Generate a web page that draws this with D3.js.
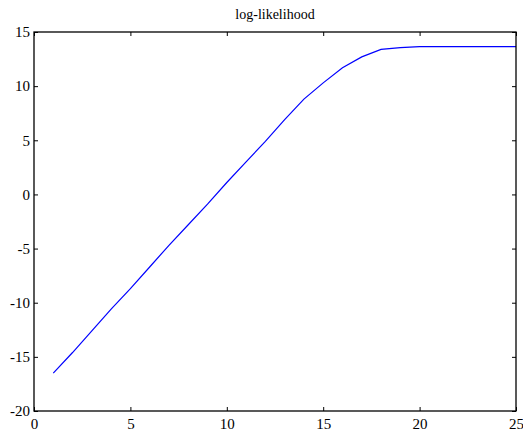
<!DOCTYPE html>
<html>
<head>
<meta charset="utf-8">
<script src="https://cdn.jsdelivr.net/npm/d3@7"></script>
<style>
  body { margin: 0; background: #fff; }
  svg { display: block; }
</style>
</head>
<body>
<svg></svg>
<script>
var w = 523, h = 432;
var serif = "'Liberation Serif', 'Times New Roman', Times, 'DejaVu Serif', serif";

// data
var iterations = [1, 2, 3, 4, 5, 6, 7, 8, 9, 10, 11, 12, 13, 14, 15, 16, 17, 18, 19, 20, 21, 22, 23, 24, 25];
var logLik = [-16.5, -14.6, -12.6, -10.6, -8.7, -6.7, -4.7, -2.8, -0.9, 1.1, 3.0, 4.9, 6.9, 8.8,
              10.3, 11.7, 12.7, 13.4, 13.55, 13.65, 13.65, 13.65, 13.65, 13.65, 13.65];
var xTicks = [0, 5, 10, 15, 20, 25];
var yTicks = [-20, -15, -10, -5, 0, 5, 10, 15];
var title = "log-likelihood";

var margin = {top: 32, right: 7, bottom: 21, left: 34};
var pw = w - margin.left - margin.right,
    ph = h - margin.top - margin.bottom;

var svg = d3.select("svg").attr("width", w).attr("height", h);
var g = svg.append("g").attr("transform", "translate(" + margin.left + "," + margin.top + ")");

var x = d3.scaleLinear().domain([0, 25]).range([0, pw]);
var y = d3.scaleLinear().domain([-20, 15]).range([ph, 0]);

var fontsize = 15;

// bottom axis with labels, ticks pointing inward
g.append("g")
    .attr("transform", "translate(0," + ph + ")")
    .call(d3.axisBottom(x).tickValues(xTicks).tickSize(-4).tickPadding(7).tickFormat(d3.format("d")))
    .call(a => a.select(".domain").remove())
    .attr("font-family", serif)
    .selectAll("text").style("font-size", fontsize + "px").style("font-family", serif).attr("fill", "#000");

// left axis with labels
g.append("g")
    .call(d3.axisLeft(y).tickValues(yTicks).tickSize(-4).tickPadding(4).tickFormat(d => d < 0 ? "-" + Math.abs(d) : d))
    .call(a => a.select(".domain").remove())
    .attr("font-family", serif)
    .selectAll("text").style("font-size", fontsize + "px").style("font-family", serif).attr("fill", "#000");

// mirrored ticks on top and right
g.append("g")
    .call(d3.axisTop(x).tickValues(xTicks).tickSize(-4).tickFormat(""))
    .call(a => a.select(".domain").remove());
g.append("g")
    .attr("transform", "translate(" + pw + ",0)")
    .call(d3.axisRight(y).tickValues(yTicks).tickSize(-4).tickFormat(""))
    .call(a => a.select(".domain").remove());

g.selectAll(".tick line").attr("stroke", "#000").attr("stroke-width", 1);

// the curve
var line = d3.line()
    .x((d, i) => x(iterations[i]))
    .y(d => y(d));

g.append("path")
    .datum(logLik)
    .attr("d", line)
    .attr("fill", "none")
    .attr("stroke", "#0000ff")
    .attr("stroke-width", 1.2);

// frame
g.append("rect")
    .attr("x", 0).attr("y", 0)
    .attr("width", pw).attr("height", ph)
    .attr("fill", "none")
    .attr("stroke", "#000")
    .attr("stroke-width", 1.3);

svg.append("text")
    .attr("x", margin.left + pw / 2)
    .attr("y", 19)
    .attr("text-anchor", "middle")
    .style("font-family", serif)
    .style("font-size", "14px")
    .text(title);
</script>
</body>
</html>
